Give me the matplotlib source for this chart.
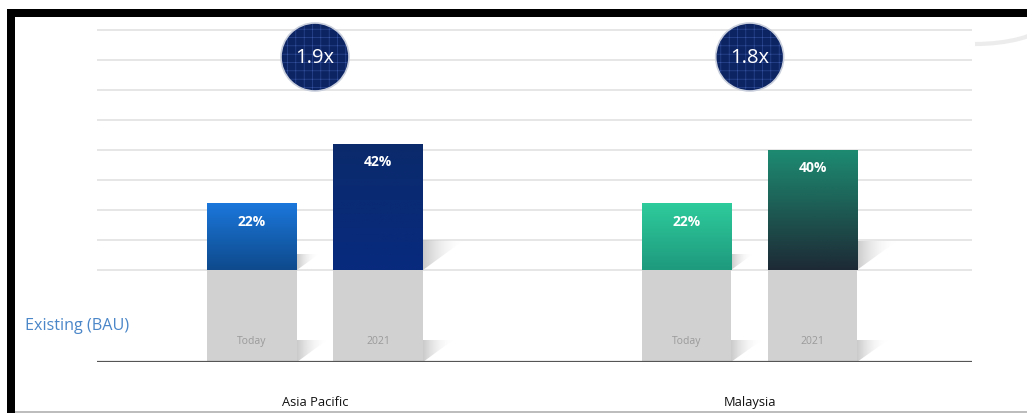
import numpy as np
import matplotlib
matplotlib.use('Agg')
import matplotlib.pyplot as plt
from matplotlib.patches import Rectangle, Polygon, Ellipse, Arc
from matplotlib.colors import LinearSegmentedColormap

plt.rcParams['font.family'] = ['Open Sans', 'DejaVu Sans']
plt.rcParams['hatch.linewidth'] = 0.4

# data
regions = ['Asia Pacific', 'Malaysia']
periods = ['Today', '2021']
share = {'Asia Pacific': [22, 42], 'Malaysia': [22, 40]}
multiplier = ['1.9x', '1.8x']
bau_base = 30.7          # grey "Existing (BAU)" block under every bar
bau_label = 'Existing (BAU)'

# styles
W, H = 1027, 414
px_x = 126.0             # pixels per x unit
px_y = 3.0               # pixels per y unit
group_centers = [0.5, 3.95]
bar_w = 0.71
grad = {
    ('Asia Pacific', 0): ('#1b77db', '#0e4a8c'),
    ('Asia Pacific', 1): ('#0b2a6c', '#082a7e'),
    ('Malaysia', 0): ('#2ecb9c', '#1e9a7d'),
    ('Malaysia', 1): ('#1d8b71', '#1d2a36'),
}
grey = '#d2d1d1'

fig = plt.figure(figsize=(W / 100, H / 100), dpi=100)
fig.patch.set_facecolor('white')

# axes placed so that baseline sits at pixel row 363
ax_left, ax_right = 97, 972
ax_bottom, ax_top = 363, 20
ax = fig.add_axes([ax_left / W, (H - ax_bottom) / H,
                   (ax_right - ax_left) / W, (ax_bottom - ax_top) / H])
ax.set_xlim((ax_left - 252) / px_x, (ax_right - 252) / px_x)
ax.set_ylim(0, (ax_bottom - ax_top) / px_y)
ax.axis('off')

# horizontal guide lines
for k in range(9):
    ax.axhline(bau_base + 10 * k, color='#e6e6e6', lw=1.4, zorder=0)
ax.axhline(0, color='#555555', lw=1.6, zorder=5)


def shadow(x_r, y_b, seg_h):
    sw = 0.33 * seg_h * px_y / px_x
    sh = 0.24 * seg_h
    tri = Polygon([(x_r, y_b), (x_r, y_b + sh), (x_r + sw, y_b + sh)],
                  closed=True, facecolor='none', edgecolor='none')
    ax.add_patch(tri)
    g = np.linspace(1, 0, 64).reshape(1, -1)
    cm = LinearSegmentedColormap.from_list('sh', [(1, 1, 1, 0), (0.74, 0.74, 0.74, 0.8)])
    im = ax.imshow(g, cmap=cm, vmin=0, vmax=1, aspect='auto',
                   extent=[x_r, x_r + sw, y_b, y_b + sh], zorder=1,
                   interpolation='bicubic')
    im.set_clip_path(tri)


def grad_bar(x0, y0, w, h, top, bottom):
    cm = LinearSegmentedColormap.from_list('b', [bottom, top])
    g = np.linspace(0, 1, 128).reshape(-1, 1)
    ax.imshow(g, cmap=cm, aspect='auto', origin='lower',
              extent=[x0, x0 + w, y0, y0 + h], zorder=3)


for gi, reg in enumerate(regions):
    gc = group_centers[gi]
    for pi, per in enumerate(periods):
        xc = gc - 0.5 + pi
        x0 = xc - bar_w / 2
        val = share[reg][pi]
        # grey base block
        ax.add_patch(Rectangle((x0, 0), bar_w, bau_base, facecolor=grey,
                               edgecolor='none', zorder=3))
        shadow(x0 + bar_w, 0, bau_base)
        # coloured share block
        top, bottom = grad[(reg, pi)]
        grad_bar(x0, bau_base, bar_w, val, top, bottom)
        shadow(x0 + bar_w, bau_base, val)
        ax.text(xc, bau_base + val - 5.8, f'{val}%', color='white',
                fontsize=10, fontweight='bold', ha='center', va='center', zorder=6)
        ax.text(xc, 7, per, color='#9a9a9a', fontsize=7.5,
                ha='center', va='center', zorder=6)
    ax.text(gc, -13.3, reg, color='#111111', fontsize=9.3, ha='center', va='center')

    # multiplier badge
    cy = (ax_bottom - 58) / px_y
    rw, rh = 68 / px_x, 68 / px_y
    ax.add_patch(Ellipse((gc, cy), rw, rh, facecolor='#0d2463',
                         edgecolor='#c9cfdc', lw=1.2, zorder=4))
    ax.add_patch(Ellipse((gc, cy), rw * 0.97, rh * 0.97, facecolor='none',
                         edgecolor='#3552a0', hatch='++', lw=0, zorder=4))
    ax.text(gc, cy, multiplier[gi], color='white', fontsize=14.5,
            ha='center', va='center', zorder=6)

ax.text((25 - 252) / px_x, (ax_bottom - 326) / px_y, bau_label, color='#4a86c8',
        fontsize=11.6, ha='left', va='center', clip_on=False)

# slide frame
fig.patches.append(Rectangle((7 / W, (H - 18) / H), 1 - 7 / W, 8 / H,
                             transform=fig.transFigure, facecolor='black', edgecolor='none'))
fig.patches.append(Rectangle((7 / W, 0), 8 / W, (H - 10) / H,
                             transform=fig.transFigure, facecolor='black', edgecolor='none'))
fig.patches.append(Rectangle((15 / W, 0), 1 - 15 / W, 2 / H,
                             transform=fig.transFigure, facecolor='#bdbdbd', edgecolor='none'))
# faint decorative swoosh, top right
fig.patches.append(Arc((975 / W, 1 - 18 / H), 150 / W, 54 / H, theta1=270, theta2=345,
                       transform=fig.transFigure, color='#ececec', lw=3))

fig.savefig('out.png', dpi=100)
